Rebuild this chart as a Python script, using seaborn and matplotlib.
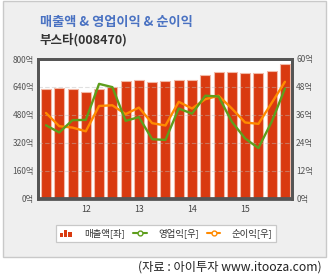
import matplotlib
matplotlib.use("Agg")
import matplotlib.pyplot as plt
import seaborn as sns
import numpy as np
import pandas as pd
from matplotlib.patches import Rectangle
from matplotlib.lines import Line2D
from matplotlib.legend_handler import HandlerBase

sns.set_style("white")
plt.rcParams['font.family'] = ['Noto Sans CJK KR', 'DejaVu Sans']

# ---- data ----
quarters = [f"Q{i}" for i in range(19)]
sales = [627, 631, 626, 608, 629, 639, 672, 681, 666, 673, 681,
         681, 706, 725, 725, 718, 721, 733, 771]
op_profit = [31.5, 28.4, 33.7, 33.8, 49.3, 47.9, 33.4, 35.0, 25.5, 25.2, 38.7,
             36.5, 44.2, 43.9, 33.0, 25.8, 21.7, 33.0, 47.3]
net_profit = [36.8, 31.1, 30.5, 28.9, 39.8, 40.1, 36.3, 39.1, 32.4, 31.4, 41.6,
              38.7, 42.7, 44.2, 38.7, 32.7, 32.1, 41.1, 50.2]
year_labels = ["12", "13", "14", "15"]
year_positions = [3, 7, 11, 15]
left_ticks = [0, 160, 320, 480, 640, 800]
right_ticks = [0, 12, 24, 36, 48, 60]

title = "매출액 & 영업이익 & 순이익"
subtitle = "부스타(008470)"
source = "(자료 : 아이투자 www.itooza.com)"

df = pd.DataFrame({"q": quarters, "sales": sales, "op": op_profit, "net": net_profit,
                   "x": np.arange(len(quarters))})

BAR = "#d93a10"
GREEN = "#5e9e1c"
ORANGE = "#ff8a00"

W, H = 329, 277
fig = plt.figure(figsize=(W / 100, H / 100), dpi=100)
fig.patch.set_facecolor("white")

# gray panel
fig.patches.append(Rectangle((3 / W, 1 - 256.5 / H), 323 / W, 256 / H,
                             transform=fig.transFigure, facecolor="#efefef",
                             edgecolor="#c9c9c9", linewidth=1, zorder=-5))

fig.text(40 / W, 1 - 22 / H, title, color="#4a72c2", fontsize=9.5,
         fontweight="bold", va="center", ha="left")
fig.text(40 / W, 1 - 40 / H, subtitle, color="#333333", fontsize=9,
         fontweight="bold", va="center", ha="left")
fig.text(322 / W, 1 - 267 / H, source, color="#222222", fontsize=8.8,
         va="center", ha="right")

ax = fig.add_axes([38 / W, 1 - 198.5 / H, 254 / W, 139.5 / H])
ax.set_zorder(1)
ax.set_facecolor("white")
sns.barplot(data=df, x="x", y="sales", ax=ax, color=BAR, width=0.75,
            edgecolor="#f2b9a6", linewidth=0.8, saturation=1, native_scale=True, zorder=2)
ax.set_xlim(-0.6, 18.53)
ax.set_ylim(0, 800)
ax.set_yticks(left_ticks)
ax.set_yticklabels([f"{v}억" for v in left_ticks], fontsize=6, color="#555555")
ax.set_xticks(year_positions)
ax.set_xticklabels(year_labels, fontsize=6.3, color="#444444")
ax.tick_params(length=0, pad=3)
ax.tick_params(axis="x", pad=5)
ax.set_xlabel("")
ax.set_ylabel("")
for v in left_ticks[1:-1]:
    ax.axhline(v, color="#bbbbbb", alpha=0.45, lw=0.8, ls=(0, (4, 2)), zorder=3)
for s in ax.spines.values():
    s.set_color("#555555")
    s.set_linewidth(2)
    s.set_zorder(10)

ax2 = ax.twinx()
ax2.set_zorder(2)
ax2.patch.set_visible(False)
sns.lineplot(data=df, x="x", y="op", ax=ax2, color=GREEN, lw=1.7, zorder=5)
sns.lineplot(data=df, x="x", y="net", ax=ax2, color=ORANGE, lw=1.7, zorder=4)
ax2.set_ylim(0, 60)
ax2.set_xlim(-0.6, 18.53)
ax2.set_yticks(right_ticks)
ax2.set_yticklabels([f"{v}억" for v in right_ticks], fontsize=6, color="#555555")
ax2.tick_params(length=0, pad=3)
ax2.set_ylabel("")
ax2.grid(False)
for s in ax2.spines.values():
    s.set_color("#555555")
    s.set_linewidth(2)


class BarIconHandler(HandlerBase):
    def create_artists(self, legend, orig_handle, xdescent, ydescent, width, height,
                       fontsize, trans):
        arts = []
        bw = width / 4.2
        hs = [0.6, 1.15, 0.8]
        for i, h in enumerate(hs):
            r = Rectangle((-xdescent + i * bw * 1.4, -ydescent - 0.15 * height), bw,
                          h * height, facecolor=BAR, edgecolor="none", transform=trans)
            arts.append(r)
        return arts


bar_handle = Rectangle((0, 0), 1, 1, facecolor=BAR)
g_handle = Line2D([], [], color=GREEN, lw=1.5, marker="o", markersize=3.5,
                  markerfacecolor="white", markeredgecolor=GREEN)
o_handle = Line2D([], [], color=ORANGE, lw=1.5, marker="o", markersize=3.5,
                  markerfacecolor="white", markeredgecolor=ORANGE)
leg = fig.legend([bar_handle, g_handle, o_handle], ["매출액[좌]", "영업익[우]", "순이익[우]"],
                 loc="center", bbox_to_anchor=(166 / W, 1 - 233.5 / H), ncol=3,
                 fontsize=6.8, frameon=True, fancybox=False, edgecolor="#c8c8c8",
                 facecolor="white", framealpha=1, handlelength=1.4, handletextpad=1.2,
                 columnspacing=0.9, borderpad=0.4, borderaxespad=0,
                 handler_map={Rectangle: BarIconHandler()})
leg.get_frame().set_linewidth(0.9)
for t in leg.get_texts():
    t.set_color("#333333")

fig.savefig("out.png", dpi=100, facecolor=fig.get_facecolor())
